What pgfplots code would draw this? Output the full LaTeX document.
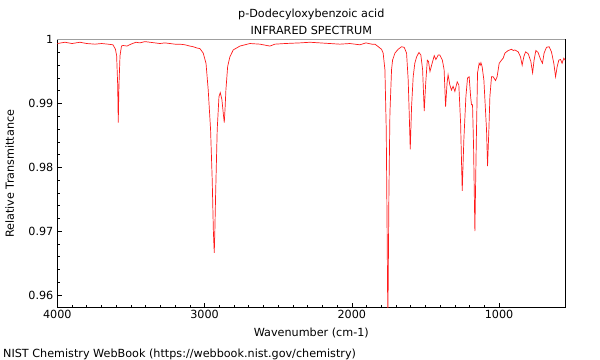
\documentclass[border=0pt]{standalone}
\usepackage{fontspec}
\setmainfont{DejaVu Sans}
\usepackage{pgfplots}
\pgfplotsset{compat=1.18}
\begin{document}
\fontsize{11.2bp}{13bp}\selectfont
\begin{tikzpicture}
\begin{axis}[
  scale only axis,
  width=508bp, height=268bp,
  at={(0,0)}, anchor=south west,
  x dir=reverse,
  xmin=550, xmax=4000,
  ymin=0.958, ymax=1.0,
  xtick={1000,2000,3000,4000},
  minor x tick num=9,
  ytick={0.96,0.97,0.98,0.99,1},
  minor y tick num=4,
  xtick pos=bottom, ytick pos=left,
  tick align=inside,
  major tick length=5bp, minor tick length=3bp,
  every tick/.style={black, line width=0.5pt},
  axis line style={black, line width=0.6pt},
  /pgf/number format/assume math mode=true,
  xticklabel style={/pgf/number format/set thousands separator={}, font=\fontsize{11.2bp}{13bp}\selectfont, yshift=1bp},
  yticklabel style={/pgf/number format/fixed, /pgf/number format/precision=2, font=\fontsize{11.2bp}{13bp}\selectfont},
  clip=true,
]
\addplot[color=red!90, line width=0.7pt] coordinates {
(4000,0.9994) (3948,0.9996) (3900,0.9994) (3846,0.9996) (3800,0.9994) (3744,0.9993)
(3699,0.9994) (3656,0.9993) (3622,0.9992) (3605,0.9985) (3597,0.9975) (3590,0.9930)
(3586,0.9870) (3581,0.9930) (3574,0.9975) (3564,0.9990) (3554,0.9991) (3527,0.9990)
(3500,0.9993) (3466,0.9996) (3439,0.9995) (3405,0.9997) (3371,0.9996) (3337,0.9995)
(3303,0.9994) (3269,0.9995) (3235,0.9994) (3201,0.9993) (3167,0.9993) (3133,0.9992)
(3099,0.9990) (3077,0.9989) (3052,0.9987) (3031,0.9986) (3009,0.9979) (2990,0.9963)
(2975,0.9921) (2959,0.9859) (2948,0.9781) (2940,0.9700) (2934,0.9666) (2930,0.9700)
(2925,0.9755) (2914,0.9859) (2902,0.9911) (2893,0.9917) (2882,0.9906) (2873,0.9885)
(2866,0.9870) (2860,0.9895) (2855,0.9921) (2843,0.9958) (2828,0.9973) (2805,0.9984)
(2760,0.9990) (2692,0.9994) (2624,0.9993) (2556,0.9990) (2522,0.9993) (2454,0.9994)
(2352,0.9995) (2284,0.9996) (2217,0.9995) (2149,0.9994) (2081,0.9993) (2013,0.9994)
(1945,0.9992) (1904,0.9995) (1864,0.9993) (1843,0.9993) (1820,0.9989) (1798,0.9985)
(1787,0.9979) (1775,0.9953) (1766,0.9859) (1760,0.9700) (1755,0.9550) (1748,0.9755)
(1741,0.9885) (1730,0.9953) (1723,0.9968) (1707,0.9979) (1685,0.9985) (1662,0.9989)
(1644,0.9988) (1628,0.9979) (1617,0.9937) (1610,0.9885) (1603,0.9828) (1594,0.9895)
(1583,0.9942) (1572,0.9963) (1560,0.9973) (1544,0.9980) (1531,0.9976) (1519,0.9953)
(1508,0.9888) (1498,0.9932) (1487,0.9968) (1479,0.9966) (1469,0.9950) (1458,0.9960)
(1440,0.9975) (1429,0.9969) (1413,0.9976) (1402,0.9976) (1385,0.9968) (1373,0.9953)
(1363,0.9895) (1353,0.9932) (1346,0.9945) (1334,0.9929) (1323,0.9921) (1312,0.9927)
(1300,0.9919) (1284,0.9934) (1273,0.9929) (1261,0.9869) (1250,0.9763) (1239,0.9843)
(1225,0.9911) (1214,0.9940) (1203,0.9942) (1193,0.9911) (1187,0.9898) (1180,0.9898)
(1173,0.9833) (1164,0.9700) (1155,0.9833) (1146,0.9948) (1135,0.9963) (1128,0.9960)
(1123,0.9964) (1115,0.9958) (1103,0.9937) (1085,0.9859) (1078,0.9802) (1069,0.9859)
(1062,0.9911) (1051,0.9942) (1040,0.9942) (1024,0.9936) (1013,0.9942) (999,0.9963)
(983,0.9968) (972,0.9971) (960,0.9979) (938,0.9983) (915,0.9985) (903,0.9983)
(893,0.9984) (870,0.9981) (854,0.9973) (843,0.9960) (832,0.9973) (820,0.9981)
(802,0.9978) (784,0.9966) (772,0.9948) (762,0.9968) (750,0.9983) (735,0.9980)
(716,0.9968) (705,0.9963) (694,0.9979) (678,0.9988) (660,0.9989) (644,0.9981)
(628,0.9963) (616,0.9942) (605,0.9958) (594,0.9968) (582,0.9969) (572,0.9963)
(560,0.9971) (551,0.9968)
};
\end{axis}
\draw[gray!75, line width=1.5bp] (0,268bp) -- (508bp,268bp);
\node[anchor=base, inner sep=0pt] at (254bp,289.7bp) {p-Dodecyloxybenzoic acid};
\node[anchor=base, inner sep=0pt] at (254bp,272.7bp) {INFRARED SPECTRUM};
\node[anchor=base, inner sep=0pt] at (254bp,-28.5bp) {Wavenumber (cm-1)};
\node[anchor=base, inner sep=0pt, rotate=90] at (-43.5bp,134bp) {Relative Transmittance};
\node[anchor=base west, inner sep=0pt] at (-54.3bp,-49.3bp) {NIST Chemistry WebBook (https://webbook.nist.gov/chemistry)};
\pgfresetboundingbox
\path[use as bounding box] (-57.3bp,-52.3bp) rectangle (542.7bp,307.7bp);
\end{tikzpicture}
\end{document}
